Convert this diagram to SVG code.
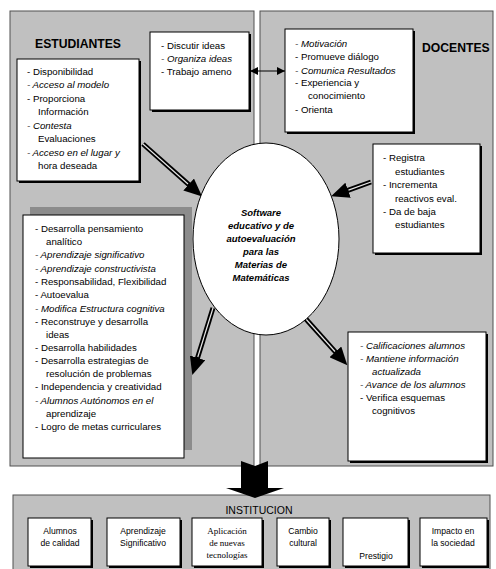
<svg xmlns="http://www.w3.org/2000/svg" width="496" height="569" viewBox="0 0 496 569">
<style>
.panel{fill:#c0c0c0;stroke:#505050;stroke-width:1}
.box{fill:#fff;stroke:#000;stroke-width:1}
.sh{fill:#000}
.t{font-family:"Liberation Sans",Arial,sans-serif;font-size:9.7px;fill:#000}
.ti{font-style:italic}
.hd{font-family:"Liberation Sans",Arial,sans-serif;font-size:12.2px;font-weight:bold;fill:#000}
.el{font-family:"Liberation Sans",Arial,sans-serif;font-size:9.5px;font-weight:bold;font-style:italic;fill:#000;text-anchor:middle}
.it{font-family:"Liberation Sans",Arial,sans-serif;font-size:8.6px;fill:#000;text-anchor:middle}
.is{font-family:"Liberation Serif","Times New Roman",serif;font-size:9px;fill:#000;text-anchor:middle}
.shaft{stroke:#000;stroke-width:5;fill:none}
.stripe{stroke:#e8e8e8;stroke-width:1.2;fill:none}
</style>
<defs>
<marker id="ah" viewBox="0 -8 18 16" refX="1" refY="0" markerWidth="18" markerHeight="16" markerUnits="userSpaceOnUse" orient="auto">
<path d="M0,-8 L18,0 L0,8 z" fill="#000"/>
</marker>
<marker id="sa" viewBox="0 -4 8 8" refX="8" refY="0" markerWidth="8" markerHeight="8" markerUnits="userSpaceOnUse" orient="auto-start-reverse">
<path d="M0,-4 L8,0 L0,4 z" fill="#000"/>
</marker>
</defs>

<g id="panels">
<rect class="panel" x="10" y="11" width="244" height="455"/>
<rect class="panel" x="260" y="11" width="233" height="455"/>
</g>

<g id="estudiantes-title"><text class="hd" x="35" y="48">ESTUDIANTES</text></g>
<g id="docentes-title"><text class="hd" x="422" y="52">DOCENTES</text></g>

<g id="est-box">
<rect class="sh" x="19" y="61" width="122" height="122"/>
<rect class="box" x="17" y="59" width="122" height="122"/>
<text class="t" x="27" y="75">- Disponibilidad</text>
<text class="t ti" x="27" y="88">- Acceso al modelo</text>
<text class="t" x="27" y="102">- Proporciona</text>
<text class="t" x="38" y="115">Información</text>
<text class="t ti" x="27" y="129">- Contesta</text>
<text class="t" x="38" y="142">Evaluaciones</text>
<text class="t ti" x="27" y="156">- Acceso en el lugar y</text>
<text class="t" x="38" y="169">hora deseada</text>
</g>

<g id="ideas-box">
<rect class="sh" x="152" y="34" width="99" height="78"/>
<rect class="box" x="150" y="32" width="99" height="78"/>
<text class="t" x="161" y="49">- Discutir ideas</text>
<text class="t ti" x="161" y="62">- Organiza ideas</text>
<text class="t" x="161" y="75">- Trabajo ameno</text>
</g>

<g id="doc-box">
<rect class="sh" x="287" y="31" width="128" height="103"/>
<rect class="box" x="285" y="29" width="128" height="103"/>
<text class="t ti" x="295" y="47">- Motivación</text>
<text class="t" x="295" y="60">- Promueve diálogo</text>
<text class="t ti" x="295" y="74">- Comunica Resultados</text>
<text class="t" x="295" y="86">- Experiencia y</text>
<text class="t" x="308" y="99">conocimiento</text>
<text class="t" x="295" y="113">- Orienta</text>
</g>

<g id="reg-box">
<rect class="sh" x="375" y="146" width="107" height="109"/>
<rect class="box" x="373" y="144" width="107" height="109"/>
<text class="t" x="383" y="161">- Registra</text>
<text class="t" x="395" y="175">estudiantes</text>
<text class="t" x="383" y="188">- Incrementa</text>
<text class="t" x="395" y="202">reactivos eval.</text>
<text class="t" x="383" y="215">- Da de baja</text>
<text class="t" x="395" y="228">estudiantes</text>
</g>

<g id="des-box">
<rect x="30" y="207" width="162" height="243" fill="#8c8c8c"/>
<rect class="box" x="23" y="215" width="161" height="243"/>
<text class="t" x="35" y="232">- Desarrolla pensamiento</text>
<text class="t" x="46" y="245">analítico</text>
<text class="t ti" x="35" y="258">- Aprendizaje significativo</text>
<text class="t ti" x="35" y="272">- Aprendizaje constructivista</text>
<text class="t" x="35" y="285">- Responsabilidad, Flexibilidad</text>
<text class="t" x="35" y="298">- Autoevalua</text>
<text class="t ti" x="35" y="312">- Modifica Estructura cognitiva</text>
<text class="t" x="35" y="325">- Reconstruye y desarrolla</text>
<text class="t" x="46" y="338">ideas</text>
<text class="t" x="35" y="351">- Desarrolla habilidades</text>
<text class="t" x="35" y="364">- Desarrolla estrategias de</text>
<text class="t" x="46" y="377">resolución de problemas</text>
<text class="t" x="35" y="390">- Independencia y creatividad</text>
<text class="t ti" x="35" y="404">- Alumnos Autónomos en el</text>
<text class="t" x="46" y="417">aprendizaje</text>
<text class="t" x="35" y="430">- Logro de metas curriculares</text>
</g>

<g id="cal-box">
<rect class="sh" x="350" y="334" width="138" height="129"/>
<rect class="box" x="348" y="332" width="138" height="129"/>
<text class="t ti" x="360" y="349">- Calificaciones alumnos</text>
<text class="t ti" x="360" y="362">- Mantiene información</text>
<text class="t ti" x="372" y="375">actualizada</text>
<text class="t ti" x="360" y="388">- Avance de los alumnos</text>
<text class="t" x="360" y="401">- Verifica esquemas</text>
<text class="t" x="372" y="414">cognitivos</text>
</g>

<g id="connectors">
<line x1="250" y1="71" x2="285" y2="71" stroke="#000" stroke-width="1.2" marker-start="url(#sa)" marker-end="url(#sa)"/>
<line class="shaft" x1="143" y1="144" x2="189.4" y2="185.2" marker-end="url(#ah)"/>
<line class="stripe" x1="143" y1="144" x2="188" y2="184"/>
<line class="shaft" x1="371" y1="182" x2="347.1" y2="190.6" marker-end="url(#ah)"/>
<line class="stripe" x1="371" y1="182" x2="348.5" y2="190.1"/>
<line class="shaft" x1="213" y1="308" x2="197.3" y2="358.8" marker-end="url(#ah)"/>
<line class="stripe" x1="213" y1="308" x2="197.8" y2="357"/>
<line class="shaft" x1="305" y1="318" x2="336" y2="352.6" marker-end="url(#ah)"/>
<line class="stripe" x1="305" y1="318" x2="335" y2="351.5"/>
</g>

<g id="software">
<ellipse cx="266" cy="239" rx="73" ry="96" fill="#fff" stroke="#000" stroke-width="1"/>
<text class="el" x="261" y="216">Software</text>
<text class="el" x="261" y="229">educativo y de</text>
<text class="el" x="261" y="242">autoevaluación</text>
<text class="el" x="261" y="255">para las</text>
<text class="el" x="261" y="268">Materias de</text>
<text class="el" x="261" y="281">Matemáticas</text>
</g>

<g id="institucion">
<rect class="panel" x="13" y="495" width="477" height="80"/>
<text x="259" y="514" font-family="'Liberation Sans',Arial,sans-serif" font-size="10.5" text-anchor="middle">INSTITUCION</text>
</g>

<g id="big-arrow">
<path d="M241,461 L255,466 L268,461 L268,488 L284,488 L255,498 L226,488 L241,488 z" fill="#000"/>
</g>

<g id="inst-1">
<rect class="sh" x="30" y="520" width="63" height="48"/>
<rect class="box" x="28" y="518" width="63" height="48"/>
<text class="it" x="60" y="534">Alumnos</text>
<text class="it" x="60" y="546">de calidad</text>
</g>
<g id="inst-2">
<rect class="sh" x="109" y="520" width="73" height="48"/>
<rect class="box" x="107" y="518" width="73" height="48"/>
<text class="it" x="143" y="534">Aprendizaje</text>
<text class="it" x="143" y="546">Significativo</text>
</g>
<g id="inst-3">
<rect class="sh" x="194" y="520" width="70" height="48"/>
<rect class="box" x="192" y="518" width="70" height="48"/>
<text class="is" x="227" y="534">Aplicación</text>
<text class="is" x="227" y="546">de nuevas</text>
<text class="is" x="227" y="558">tecnologías</text>
</g>
<g id="inst-4">
<rect class="sh" x="279" y="520" width="52" height="48"/>
<rect class="box" x="277" y="518" width="52" height="48"/>
<text class="it" x="303" y="534">Cambio</text>
<text class="it" x="303" y="546">cultural</text>
</g>
<g id="inst-5">
<rect class="sh" x="345" y="520" width="65" height="48"/>
<rect class="box" x="343" y="518" width="65" height="48"/>
<text class="it" x="376" y="559">Prestigio</text>
</g>
<g id="inst-6">
<rect class="sh" x="422" y="520" width="67" height="48"/>
<rect class="box" x="420" y="518" width="67" height="48"/>
<text class="it" x="453" y="534">Impacto en</text>
<text class="it" x="453" y="546">la sociedad</text>
</g>
</svg>
